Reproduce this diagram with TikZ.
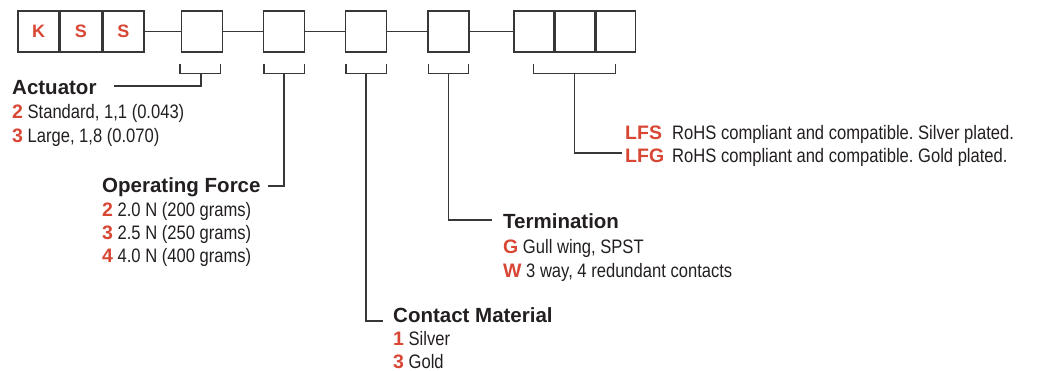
\documentclass[tikz,border=0pt]{standalone}
\usepackage{fontspec}
\setmainfont{Liberation Sans}
\newfontfamily\condfont{Liberation Sans}[FakeStretch=0.85]
\usepackage{xcolor}
\usetikzlibrary{positioning, calc}
\definecolor{codered}{RGB}{216,70,52}
\definecolor{ink}{RGB}{35,31,32}
\definecolor{linegray}{RGB}{55,55,55}
\tikzstyle{digit} = [rectangle, draw=linegray, line width=1.4pt, minimum width=41pt, minimum height=41pt, inner sep=0pt, text=codered, font=\fontsize{18}{18}\selectfont\bfseries]
\tikzstyle{slot} = [digit, minimum width=39.5pt]
\tikzstyle{title} = [anchor=base west, inner sep=0pt, text=ink, font=\fontsize{20.5}{24}\selectfont\bfseries]
\tikzstyle{item} = [anchor=base west, inner sep=0pt, text=ink, font=\condfont\fontsize{19.5}{23}\selectfont\frenchspacing]
\tikzstyle{lead} = [draw=linegray, line width=1.4pt]
\newcommand{\opt}[1]{{\normalfont\bfseries\color{codered}#1}}

\begin{document}
\begin{tikzpicture}[x=1pt, y=-1pt]
    \useasboundingbox (0,0) rectangle (1041,371);

    % part number boxes
    \node (k) [digit] at (38.5,31.5) {K};
    \node (s1) [digit, right=0pt of k] {S};
    \node (s2) [digit, right=0pt of s1] {S};
    \node (act) [digit] at (202,31.5) {};
    \node (force) [digit] at (284,31.5) {};
    \node (cont) [digit] at (366,31.5) {};
    \node (term) [digit] at (448.5,31.5) {};
    \node (fin1) [slot] at (533.75,31.5) {};
    \node (fin2) [slot, right=0pt of fin1] {};
    \node (fin3) [slot, right=0pt of fin2] {};

    \draw [lead] (s2) -- (act);
    \draw [lead] (act) -- (force);
    \draw [lead] (force) -- (cont);
    \draw [lead] (cont) -- (term);
    \draw [lead] (term) -- (fin1);

    % brackets
    \draw [lead] ($(act.south west)+(-1,11)$) -- ++(0,10) -| ($(act.south east)+(-3,11)$);
    \draw [lead] ($(force.south west)+(1,11)$) -- ++(0,10) -| ($(force.south east)+(-1,11)$);
    \draw [lead] ($(cont.south west)+(1,11)$) -- ++(0,10) -| ($(cont.south east)+(-1,11)$);
    \draw [lead] ($(term.south west)+(1,11)$) -- ++(0,10) -| ($(term.south east)+(-1,11)$);
    \draw [lead] ($(fin1.south)+(0,11)$) -- ++(0,10) -| ($(fin3.south)+(0,11)$);

    \coordinate (actstem) at ($(act.south)+(-1,21)$);
    \coordinate (forcestem) at ($(force.south)+(0,21)$);
    \coordinate (contstem) at ($(cont.south)+(0,21)$);
    \coordinate (termstem) at ($(term.south)+(0,21)$);
    \coordinate (finstem) at ($(fin2.south)+(0,21)$);

    \coordinate (actend) at (114,86);
    \coordinate (forceend) at (268,186);
    \coordinate (contend) at (383,321);
    \coordinate (termend) at (492,220);
    \coordinate (finend) at (622,153);

    \draw [lead] (actstem) |- (actend);
    \draw [lead] (forcestem) |- (forceend);
    \draw [lead] (contstem) |- (contend);
    \draw [lead] (termstem) |- (termend);
    \draw [lead] (finstem) |- (finend);

    % actuator
    \node (acttitle) [title] at (12,95) {Actuator};
    \node (act2) [item] at (12,119) {\opt{2} Standard, 1,1 (0.043)};
    \node (act3) [item] at (12,143) {\opt{3} Large, 1,8 (0.070)};

    % operating force
    \node (forcetitle) [title] at (102,193) {Operating Force};
    \node (force2) [item] at (102,217) {\opt{2} 2.0 N (200 grams)};
    \node (force3) [item] at (102,240) {\opt{3} 2.5 N (250 grams)};
    \node (force4) [item] at (102,263) {\opt{4} 4.0 N (400 grams)};

    % contact material
    \node (conttitle) [title] at (393,322) {Contact Material};
    \node (cont1) [item] at (393,345) {\opt{1} Silver};
    \node (cont3) [item] at (393,368) {\opt{3} Gold};

    % termination
    \node (termtitle) [title] at (503,229) {Termination};
    \node (termg) [item] at (503,254) {\opt{G} Gull wing, SPST};
    \node (termw) [item] at (503,277) {\opt{W} 3 way, 4 redundant contacts};

    % finish
    \node (lfs) [item] at (625,140) {\opt{LFS}};
    \node (lfstext) [item] at (672,140) {RoHS compliant and compatible. Silver plated.};
    \node (lfg) [item] at (625,163) {\opt{LFG}};
    \node (lfgtext) [item] at (672,163) {RoHS compliant and compatible. Gold plated.};
\end{tikzpicture}
\end{document}
